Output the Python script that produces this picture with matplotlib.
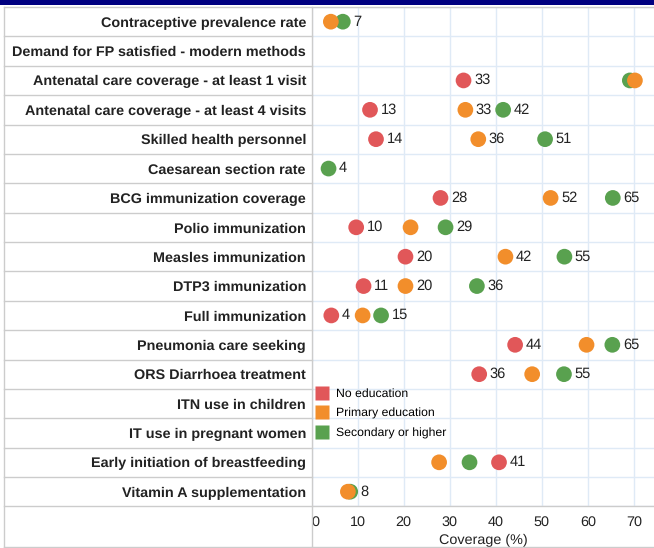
import numpy as np
import matplotlib
matplotlib.use("Agg")
import matplotlib.pyplot as plt
from matplotlib.lines import Line2D
from matplotlib.patches import Rectangle

# ── data ─────────────────────────────────────
indicators = [
    "Contraceptive prevalence rate",
    "Demand for FP satisfied - modern methods",
    "Antenatal care coverage - at least 1 visit",
    "Antenatal care coverage - at least 4 visits",
    "Skilled health personnel",
    "Caesarean section rate",
    "BCG immunization coverage",
    "Polio immunization",
    "Measles immunization",
    "DTP3 immunization",
    "Full immunization",
    "Pneumonia care seeking",
    "ORS Diarrhoea treatment",
    "ITN use in children",
    "IT use in pregnant women",
    "Early initiation of breastfeeding",
    "Vitamin A supplementation",
]
nan = np.nan
no_edu = [nan, nan, 33, 12.7, 14, nan, 28, 9.7, 20.4, 11.3, 4.3, 44.2, 36.4, nan, nan, 40.7, nan]
primary = [4.2, nan, 70.2, 33.4, 36.2, nan, 51.9, 21.5, 42.1, 20.4, 11.1, 59.7, 47.9, nan, nan, 27.7, 7.9]
secondary = [6.8, nan, 69.1, 41.6, 50.7, 3.7, 65.4, 29.1, 54.9, 35.9, 15.1, 65.3, 54.8, nan, nan, 34.3, 8.4]

# which points carry a value label
no_edu_lab = [1] * 17
primary_lab = [0, 0, 0, 1, 1, 0, 1, 0, 1, 1, 0, 0, 0, 0, 0, 0, 0]
secondary_lab = [1, 0, 0, 1, 1, 1, 1, 1, 1, 1, 1, 1, 1, 0, 0, 0, 1]

series_names = ["No education", "Primary education", "Secondary or higher"]
xticks = [0, 10, 20, 30, 40, 50, 60, 70]

# ── styles ───────────────────────────────────
CLR_RED = "#e15759"
CLR_ORANGE = "#f28e2b"
CLR_GREEN = "#59a14f"
CLR_TEXT = "#222222"
CLR_FRAME = "#cccccc"
CLR_GRID = "#dfeaf6"
CLR_TOP = "#000080"
FONT = "Liberation Sans"

W, H = 654, 548
X0, X_SCALE = 311.5, 4.607      # px of x=0, px per unit
ROW_TOP, ROW_H = 7.0, 29.375
N = len(indicators)
ROW_BOT = ROW_TOP + N * ROW_H
TABLE_BOT = 546.5
LEFT = 4.0


def fx(px):
    return px / W


def fy(py):
    return 1 - py / H


plt.rcParams["font.family"] = [FONT, "DejaVu Sans"]
plt.rcParams["text.hinting"] = "no_hinting"
fig = plt.figure(figsize=(W / 100, H / 100), dpi=100, facecolor="white")

ax = fig.add_axes([fx(X0), fy(ROW_BOT), fx(W - X0), (ROW_BOT - ROW_TOP) / H])
ax.set_xlim(0, (W - X0) / X_SCALE)
ax.set_ylim(N, 0)
for s in ax.spines.values():
    s.set_visible(False)

ax.set_xticks(xticks)
ax.set_xticklabels([str(t) for t in xticks], fontsize=10.4, color=CLR_TEXT)
ax.get_xticklabels()[0].set_horizontalalignment("left")
ax.get_xticklabels()[0].set_x(0.4)
ax.tick_params(axis="x", length=0, pad=6.5)
ax.set_yticks(np.arange(N + 1))
ax.set_yticklabels([])
ax.set_yticks(np.arange(N) + 0.5, minor=True)
ax.set_yticklabels(indicators, minor=True, fontsize=10.4,
                   fontweight="bold", color=CLR_TEXT)
ax.tick_params(axis="y", which="both", length=0, pad=4)
ax.grid(True, which="major", color=CLR_GRID, lw=1.0)
ax.set_axisbelow(True)

ys = np.arange(N) + 0.5
ms = 128
for vals, labs, color, name, z in [
    (no_edu, no_edu_lab, CLR_RED, series_names[0], 3),
    (secondary, secondary_lab, CLR_GREEN, series_names[2], 4),
    (primary, primary_lab, CLR_ORANGE, series_names[1], 5),
]:
    vals = np.array(vals, dtype=float)
    ax.scatter(vals, ys, s=ms, color=color, edgecolors="none", zorder=z)
    for v, y, lab in zip(vals, ys, labs):
        if lab and not np.isnan(v):
            ax.annotate(f"{v:.0f}", (v, y), xytext=(7.5, 0),
                        textcoords="offset points", ha="left", va="center",
                        fontsize=10.5, color=CLR_TEXT, zorder=6)

handles = [Line2D([], [], ls="none", marker="s", markersize=9.4,
                  markerfacecolor=c, markeredgecolor="none")
           for c in (CLR_RED, CLR_ORANGE, CLR_GREEN)]
ax.legend(handles, series_names, loc="upper left",
          bbox_to_anchor=(fx(316), fy(388.5)), bbox_transform=fig.transFigure,
          frameon=False, fontsize=8.85, handlelength=1.0, handletextpad=0.6,
          labelspacing=0.68, borderpad=0, borderaxespad=0)

fig.text(fx(483), fy(540), "Coverage (%)", ha="center", va="center",
         fontsize=10.4, color=CLR_TEXT)

# ── table frame ──────────────────────────────
fig.add_artist(Rectangle((0, fy(4.5)), 1, 4.5 / H, transform=fig.transFigure,
                         color=CLR_TOP, lw=0))


def hline(py, x_a, x_b, color=CLR_FRAME):
    fig.add_artist(Line2D([fx(x_a), fx(x_b)], [fy(py), fy(py)], color=color,
                          lw=1.0, transform=fig.transFigure, zorder=10))


def vline(px, y_a, y_b, color=CLR_FRAME):
    fig.add_artist(Line2D([fx(px), fx(px)], [fy(y_a), fy(y_b)], color=color,
                          lw=1.0, transform=fig.transFigure, zorder=10))


hline(ROW_TOP, LEFT, W)
for k in range(1, N):
    hline(ROW_TOP + k * ROW_H, LEFT, X0)
hline(ROW_BOT, LEFT, W)
hline(TABLE_BOT, LEFT, W)
vline(LEFT, ROW_TOP, TABLE_BOT)
vline(X0, ROW_TOP, TABLE_BOT)

fig.savefig("out.png", dpi=100, facecolor="white")
